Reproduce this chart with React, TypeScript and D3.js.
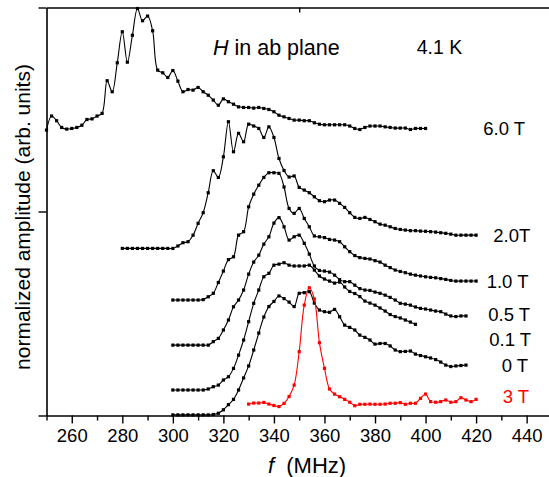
import React, { useEffect, useRef } from "react";
import * as d3 from "d3";

// frequency grid of the sweeps (MHz)
const freqMHz = [
  250, 252, 254, 256, 258, 260, 262, 264, 266, 268,
  270, 272, 274, 276, 278, 280, 282, 284, 286, 288,
  290, 292, 294, 296, 298, 300, 302, 304, 306, 308,
  310, 312, 314, 316, 318, 320, 322, 324, 326, 328,
  330, 332, 334, 336, 338, 340, 342, 344, 346, 348,
  350, 352, 354, 356, 358, 360, 362, 364, 366, 368,
  370, 372, 374, 376, 378, 380, 382, 384, 386, 388,
  390, 392, 394, 396, 398, 400, 402, 404, 406, 408,
  410, 412, 414, 416, 418, 420,
];

// normalized amplitude (arb. units, already offset), one value per grid step
const amp60T = [
  139.9, 146.8, 144.5, 141.2, 140.4, 140.7, 141.2, 142.3, 145.1, 145.4,
  146.8, 148.1, 164.1, 158.7, 172.9, 188.1, 173.2, 186.4, 199.5, 193.5,
  195.8, 188.6, 169.3, 168.0, 165.7, 169.1, 163.9, 158.7, 159.8, 159.5,
  160.8, 158.7, 157.0, 154.6, 152.1, 155.2, 153.8, 152.6, 151.3, 151.0,
  151.0, 150.7, 151.0, 150.5, 150.0, 148.9, 147.2, 146.4, 145.6, 144.8,
  144.8, 144.5, 144.5, 143.5, 142.8, 142.5, 142.5, 142.5, 142.5, 142.5,
  141.9, 140.7, 140.2, 141.2, 141.9, 141.9, 141.9, 141.5, 141.2, 140.9,
  140.9, 140.9, 140.2, 140.7, 140.7, 140.7,
];
const amp20T = [
  81.9, 81.9, 81.9, 81.9, 81.9, 81.9, 81.9, 81.9, 81.9, 81.9,
  81.9, 83.1, 84.7, 85.2, 88.4, 94.2, 99.4, 109.2, 120.0, 116.7,
  126.8, 144.0, 129.3, 138.3, 134.2, 142.8, 141.9, 140.7, 136.3, 141.5,
  136.3, 126.0, 120.1, 116.9, 117.4, 111.8, 110.5, 109.2, 107.2, 105.3,
  104.8, 105.6, 105.6, 104.0, 102.0, 99.4, 97.1, 96.6, 97.1, 96.1,
  95.0, 93.8, 93.3, 92.5, 91.7, 91.2, 90.9, 90.6, 90.6, 90.4,
  90.3, 90.1, 89.9, 89.6, 89.3, 88.9, 88.4, 88.4, 88.4, 88.4,
  88.4,
];
const amp10T = [
  56.6, 56.6, 56.6, 56.6, 56.6, 56.6, 56.8, 58.2, 59.9, 65.2,
  70.8, 76.4, 77.8, 88.4, 90.1, 102.3, 108.5, 112.9, 116.7, 119.0,
  119.0, 118.7, 112.0, 101.5, 99.1, 101.5, 96.6, 92.5, 88.0, 87.6,
  87.2, 86.3, 86.0, 85.2, 82.7, 80.3, 78.4, 77.4, 77.0, 76.7,
  75.9, 75.2, 73.7, 72.5, 71.3, 70.6, 70.0, 69.3, 68.8, 68.4,
  68.0, 67.7, 67.5, 67.1, 66.7, 66.2, 65.9, 65.9, 65.9, 65.9,
  65.9,
];
const amp05T = [
  34.5, 34.5, 34.5, 34.5, 34.5, 34.5, 34.5, 34.5, 36.2, 37.8,
  41.9, 46.8, 53.3, 56.6, 61.5, 69.3, 75.2, 78.6, 84.0, 87.6,
  94.3, 97.0, 92.5, 86.0, 87.6, 88.4, 84.4, 79.1, 73.3, 71.1,
  70.8, 70.3, 68.8, 66.6, 65.6, 65.6, 63.9, 62.2, 61.5, 61.3,
  60.5, 59.9, 59.0, 57.9, 56.6, 55.0, 54.6, 54.1, 53.2, 52.5,
  52.2, 51.7, 51.2, 50.9, 49.7, 48.8, 48.5, 48.8, 48.8,
];
const amp01T = [
  12.5, 12.5, 12.5, 12.5, 12.5, 12.5, 12.5, 13.0, 14.1, 14.9,
  17.4, 19.0, 23.1, 29.6, 37.0, 46.0, 55.0, 61.5, 68.0, 69.7,
  73.7, 74.2, 74.9, 73.7, 73.3, 73.3, 73.3, 73.7, 71.3, 68.4,
  66.9, 65.9, 64.9, 65.4, 63.0, 60.8, 59.8, 58.3, 56.1, 55.1,
  54.1, 52.7, 51.2, 49.5, 48.5, 47.8, 46.8, 45.8, 44.7,
];
const amp0T = [
  0.3, 0.3, 0.3, 0.3, 0.3, 0.3, 0.3, 0.3, 0.5, 1.1,
  2.8, 5.3, 7.9, 12.5, 18.4, 24.3, 32.1, 40.4, 48.3, 53.4,
  55.9, 58.6, 57.3, 55.6, 53.4, 59.9, 60.2, 60.7, 55.1, 51.7,
  50.9, 50.6, 52.0, 48.4, 44.3, 43.2, 41.9, 39.4, 38.3, 37.0,
  35.0, 35.3, 35.3, 34.1, 32.1, 31.3, 31.4, 31.6, 30.1, 29.4,
  28.8, 28.2, 27.4, 26.2, 24.7, 24.0, 24.3, 24.5, 24.7,
];
const amp3T = [
  5.6, 6.1, 6.1, 6.4, 5.6, 4.9, 4.4, 5.9, 9.3, 14.9,
  31.3, 54.1, 62.6, 57.1, 35.7, 23.1, 13.0, 10.5, 9.2, 7.9,
  6.5, 4.8, 5.5, 5.5, 5.6, 5.5, 5.5, 5.6, 6.0, 6.0,
  6.3, 5.5, 6.0, 6.0, 8.4, 10.5, 6.8, 6.5, 6.8, 7.6,
  6.5, 6.8, 8.7, 7.6, 6.8, 7.9,
];

const seriesLabels = ["6.0 T", "2.0T", "1.0 T", "0.5 T", "0.1 T", "0 T", "3 T"];
const seriesStartMHz = [250, 280, 300, 300, 300, 300, 330];
const seriesAmp = [amp60T, amp20T, amp10T, amp05T, amp01T, amp0T, amp3T];
const seriesColor = ["#000", "#000", "#000", "#000", "#000", "#000", "#ff0000"];

const xMajorTicks = [260, 280, 300, 320, 340, 360, 380, 400, 420, 440];
const xMinorTicks = [250, 270, 290, 310, 330, 350, 370, 390, 410, 430, 450];
const yTicks = [0, 100, 200];

const FONT = "'Liberation Sans', Arial, Helvetica, sans-serif";

export default function App() {
  const ref = useRef<SVGSVGElement>(null);

  useEffect(() => {
    const svg = d3.select(ref.current);
    svg.selectAll("*").remove();

    const height = 477;
    const margin = { top: 7.5, left: 46.5, bottom: 61.5 };

    const x = d3
      .scaleLinear()
      .domain([250, 450])
      .range([margin.left, margin.left + 200 * 2.527]);
    const y = d3
      .scaleLinear()
      .domain([0, 200])
      .range([height - margin.bottom, margin.top]);

    // bottom axis, labelled majors + minors
    const gx = svg
      .append("g")
      .attr("transform", `translate(0,${y(0)})`)
      .call(d3.axisBottom(x).tickValues(xMajorTicks).tickSize(8).tickSizeOuter(0));
    gx.select(".domain").attr("stroke-width", 1.6);
    gx.selectAll(".tick line").attr("stroke-width", 1.4);
    gx.selectAll("text")
      .attr("y", 26.5)
      .attr("dy", 0)
      .attr("font-family", FONT)
      .attr("font-size", 18.5)
      .attr("fill", "#000");

    svg
      .append("g")
      .attr("transform", `translate(0,${y(0)})`)
      .call(d3.axisBottom(x).tickValues(xMinorTicks).tickSize(5).tickFormat(() => ""))
      .call((g) => g.select(".domain").remove())
      .selectAll(".tick line")
      .attr("stroke-width", 1.4);

    // top axis
    const gt = svg
      .append("g")
      .attr("transform", `translate(0,${y(200)})`)
      .call(d3.axisTop(x).tickValues([350]).tickSize(-5).tickSizeOuter(0).tickFormat(() => ""));
    gt.select(".domain").attr("stroke-width", 1.6);
    gt.selectAll(".tick line").attr("stroke-width", 1.4);

    // left axis
    const gy = svg
      .append("g")
      .attr("transform", `translate(${x(250)},0)`)
      .call(d3.axisLeft(y).tickValues(yTicks).tickSize(8).tickSizeOuter(0).tickFormat(() => ""));
    gy.select(".domain").attr("stroke-width", 1.6);
    gy.selectAll(".tick line").attr("stroke-width", 1.4);

    const line = d3
      .line<[number, number]>()
      .x((d) => x(d[0]))
      .y((d) => y(d[1]))
      .curve(d3.curveCatmullRom);

    seriesAmp.forEach((amps, si) => {
      const i0 = freqMHz.indexOf(seriesStartMHz[si]);
      const pts: [number, number][] = amps.map((a, i) => [freqMHz[i0 + i], a]);
      const color = seriesColor[si];
      const g = svg.append("g");
      g.append("path")
        .datum(pts)
        .attr("d", line)
        .attr("fill", "none")
        .attr("stroke", color)
        .attr("stroke-width", 1.1);
      g.selectAll("rect")
        .data(pts)
        .enter()
        .append("rect")
        .attr("x", (d) => x(d[0]) - 1.6)
        .attr("y", (d) => y(d[1]) - 1.6)
        .attr("width", 3.2)
        .attr("height", 3.2)
        .attr("fill", color);
    });

    // curve labels
    const labelPos = [
      [483.3, 135],
      [493.3, 242],
      [486.7, 288],
      [488.3, 320.5],
      [489.3, 345.5],
      [501.7, 372],
      [502.7, 403],
    ];
    seriesLabels.forEach((lab, i) => {
      svg
        .append("text")
        .attr("x", labelPos[i][0])
        .attr("y", labelPos[i][1])
        .attr("font-family", FONT)
        .attr("font-size", 18.5)
        .attr("fill", seriesColor[i])
        .text(lab);
    });

    const title = svg
      .append("text")
      .attr("x", 213)
      .attr("y", 54.5)
      .attr("font-family", FONT)
      .attr("font-size", 21.5)
      .attr("fill", "#000");
    title.append("tspan").attr("font-style", "italic").text("H");
    title.append("tspan").text(" in ab plane");

    svg
      .append("text")
      .attr("x", 416.7)
      .attr("y", 53.5)
      .attr("font-family", FONT)
      .attr("font-size", 19.5)
      .attr("fill", "#000")
      .text("4.1 K");

    // axis titles
    const xt = svg
      .append("text")
      .attr("x", 268)
      .attr("y", 473)
      .attr("font-family", FONT)
      .attr("font-size", 22)
      .attr("fill", "#000");
    xt.append("tspan").attr("font-style", "italic").text("f");
    xt.append("tspan").attr("dx", 6).text(" (MHz)");

    svg
      .append("text")
      .attr("transform", `translate(30,217) rotate(-90)`)
      .attr("text-anchor", "middle")
      .attr("font-family", FONT)
      .attr("font-size", 21)
      .attr("fill", "#000")
      .text("normalized amplitude (arb. units)");
  }, []);

  return (
    <svg
      ref={ref}
      width={549}
      height={477}
      style={{ position: "absolute", left: 0, top: 0, background: "#fff" }}
    />
  );
}
